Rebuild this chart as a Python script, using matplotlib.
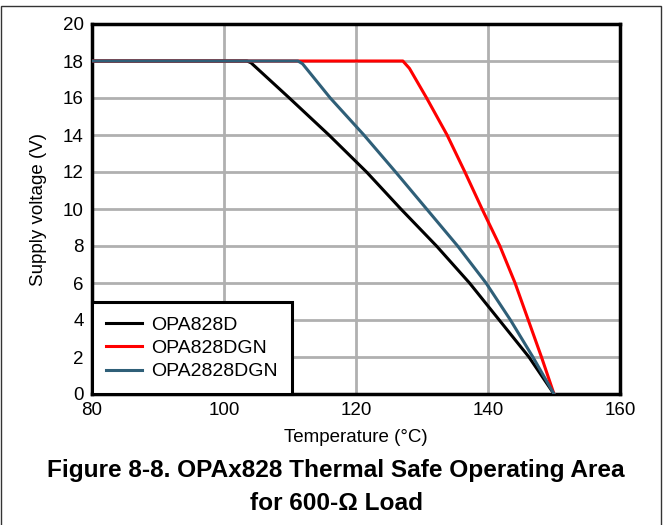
import matplotlib
matplotlib.use("Agg")
import matplotlib.pyplot as plt
from matplotlib.patches import Rectangle

plt.rcParams['font.family'] = ['Liberation Sans', 'DejaVu Sans']

# curves (temperature in C, supply voltage in V)
d_temp = [80, 103.5, 104.1, 109.9, 115.9, 121.6, 126.8, 132.2, 137.2, 141.7, 146.2, 150]
d_volt = [18, 18, 17.9, 16, 14, 12, 10, 8, 6, 4, 2, 0]

dgn_temp = [80, 127.1, 128.1, 130.7, 133.8, 136.5, 139.1, 141.8, 144.1, 146.1, 148.1, 150]
dgn_volt = [18, 18, 17.6, 16, 14, 12, 10, 8, 6, 4, 2, 0]

dual_temp = [80, 111.2, 111.9, 116.1, 121.2, 126.0, 130.7, 135.4, 139.7, 143.4, 146.8, 150]
dual_volt = [18, 18, 17.85, 16, 14, 12, 10, 8, 6, 4, 2, 0]

x_ticks = [80, 100, 120, 140, 160]
y_ticks = [0, 2, 4, 6, 8, 10, 12, 14, 16, 18, 20]

fig = plt.figure(figsize=(6.63, 5.25), dpi=100)
ax = fig.add_axes([92 / 663, 1 - 394 / 525, (620 - 92) / 663, (394 - 24) / 525])

ax.plot(d_temp, d_volt, color="black", lw=2.2, label="OPA828D", zorder=3)
ax.plot(dgn_temp, dgn_volt, color="#ff0000", lw=2.2, label="OPA828DGN", zorder=3)
ax.plot(dual_temp, dual_volt, color="#2f5f78", lw=2.2, label="OPA2828DGN", zorder=4)

ax.set_xlim(80, 160)
ax.set_ylim(0, 20)
ax.set_xticks(x_ticks)
ax.set_yticks(y_ticks)
ax.grid(True, color="#b0b0b0", lw=2)
ax.set_axisbelow(True)
for s in ax.spines.values():
    s.set_linewidth(2.5)
    s.set_color("black")
ax.tick_params(length=0, labelsize=13.5, pad=6)

ax.set_xlabel("Temperature (°C)", fontsize=13.5, labelpad=7)
ax.set_ylabel("Supply voltage (V)", fontsize=13.5, labelpad=11)

leg = ax.legend(loc="lower left", bbox_to_anchor=(0, 0), borderaxespad=0,
                fontsize=14, frameon=True, fancybox=False, edgecolor="black",
                handlelength=1.85, handletextpad=0.5, labelspacing=0.3,
                borderpad=0.7)
leg.get_frame().set_linewidth(2.2)
leg.get_frame().set_alpha(1)
for line in leg.get_lines():
    line.set_linewidth(2.2)

fig.text(0.507, 1 - 470 / 525, "Figure 8-8. OPAx828 Thermal Safe Operating Area",
         ha="center", va="center", fontsize=17.6, fontweight="bold")
fig.text(0.507, 1 - 504 / 525, "for 600-Ω Load",
         ha="center", va="center", fontsize=17.6, fontweight="bold")

# thin frame round the figure
fig.patches.append(Rectangle((1 / 663, -0.1), 660 / 663, 1.1 - 6 / 525,
                             transform=fig.transFigure, fill=False,
                             edgecolor="#333333", lw=1))

fig.savefig("out.png", dpi=100)
